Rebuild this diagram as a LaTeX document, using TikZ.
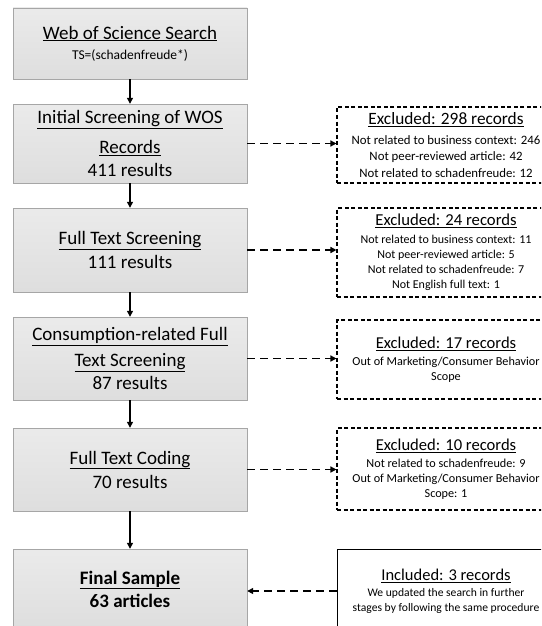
\documentclass[tikz,border=0pt]{standalone}
\usepackage{fontspec}
\setmainfont{Carlito}
\usetikzlibrary{arrows.meta}
\tikzset{
  stage/.style={draw=gray!70,top color=gray!16,bottom color=gray!26,minimum width=234pt,
    inner sep=0pt,align=center,font=\fontsize{19}{24}\selectfont},
  excl/.style={draw,line width=1.1pt,dash pattern=on 4pt off 2.5pt,minimum width=218pt,
    inner sep=0pt,align=center},
  incl/.style={draw,line width=1pt,minimum width=218pt,inner sep=0pt,align=center},
  flow/.style={line width=1.2pt,-{Triangle[length=6pt,width=6pt]}},
  side/.style={line width=1.8pt,dash pattern=on 8pt off 5pt,-{Triangle[length=6pt,width=6pt]}}
}
\newcommand{\hd}[2]{{\fontsize{#1}{#1}\selectfont\underline{#2}}}
\begin{document}
\begin{tikzpicture}[x=1pt,y=-1pt]
\path[use as bounding box,clip] (0,0) rectangle (541,626);
\node[stage,minimum height=71pt] (web) at (130,43.5)
  {\underline{Web of Science Search}\\[-4pt]{\fontsize{13.5}{14}\selectfont TS=(schadenfreude*)}};
\node[stage,minimum height=79pt] (initial) at (130,143.5)
  {\underline{Initial Screening of WOS}\\[6pt]\underline{Records}\\[-1pt]411 results};
\node[stage,minimum height=84pt] (fulltext) at (130,250)
  {\underline{Full Text Screening}\\111 results};
\node[stage,minimum height=83pt] (consum) at (130,358.5)
  {\underline{Consumption-related Full}\\[2pt]\underline{Text Screening}\\[-1pt]87 results};
\node[stage,minimum height=83pt] (coding) at (130,469.5)
  {\underline{Full Text Coding}\\70 results};
\node[stage,minimum height=80pt,font=\fontsize{19}{23}\selectfont\bfseries] (final) at (130,589)
  {\underline{Final Sample}\\63 articles};
\node[excl,minimum height=76pt,font=\fontsize{12.8}{16.5}\selectfont] (excl1) at (446,145)
  {\hd{17.3}{Excluded: 298 records}\\[3pt]Not related to business context: 246\\
   Not peer-reviewed article: 42\\Not related to schadenfreude: 12};
\node[excl,minimum height=89pt,font=\fontsize{12}{15}\selectfont] (excl2) at (446,252.5)
  {\hd{16.7}{Excluded: 24 records}\\[3pt]Not related to business context: 11\\
   Not peer-reviewed article: 5\\Not related to schadenfreude: 7\\Not English full text: 1};
\node[excl,minimum height=79pt,font=\fontsize{12.2}{15}\selectfont] (excl3) at (446,359.5)
  {\hd{16.6}{Excluded: 17 records}\\[2pt]Out of Marketing/Consumer Behavior\\Scope};
\node[excl,minimum height=82pt,font=\fontsize{12.2}{15}\selectfont] (excl4) at (446,469)
  {\hd{16.6}{Excluded: 10 records}\\[2pt]Not related to schadenfreude: 9\\
   Out of Marketing/Consumer Behavior\\Scope: 1};
\node[incl,minimum height=84pt,font=\fontsize{11.6}{15}\selectfont] (incl) at (446,591)
  {\hd{16.5}{Included: 3 records}\\[1pt]We updated the search in further\\
   stages by following the same procedure};
\draw[flow] (web) -- (initial);
\draw[flow] (initial) -- (fulltext);
\draw[flow] (fulltext) -- (consum);
\draw[flow] (consum) -- (coding);
\draw[flow] (coding) -- (final);
\draw[side] (initial.east) -- (initial.east -| excl1.west);
\draw[side] (fulltext.east) -- (fulltext.east -| excl2.west);
\draw[side] (consum.east) -- (consum.east -| excl3.west);
\draw[side] (coding.east) -- (coding.east -| excl4.west);
\draw[side] (incl.west) -- (incl.west -| final.east);
\end{tikzpicture}
\end{document}
